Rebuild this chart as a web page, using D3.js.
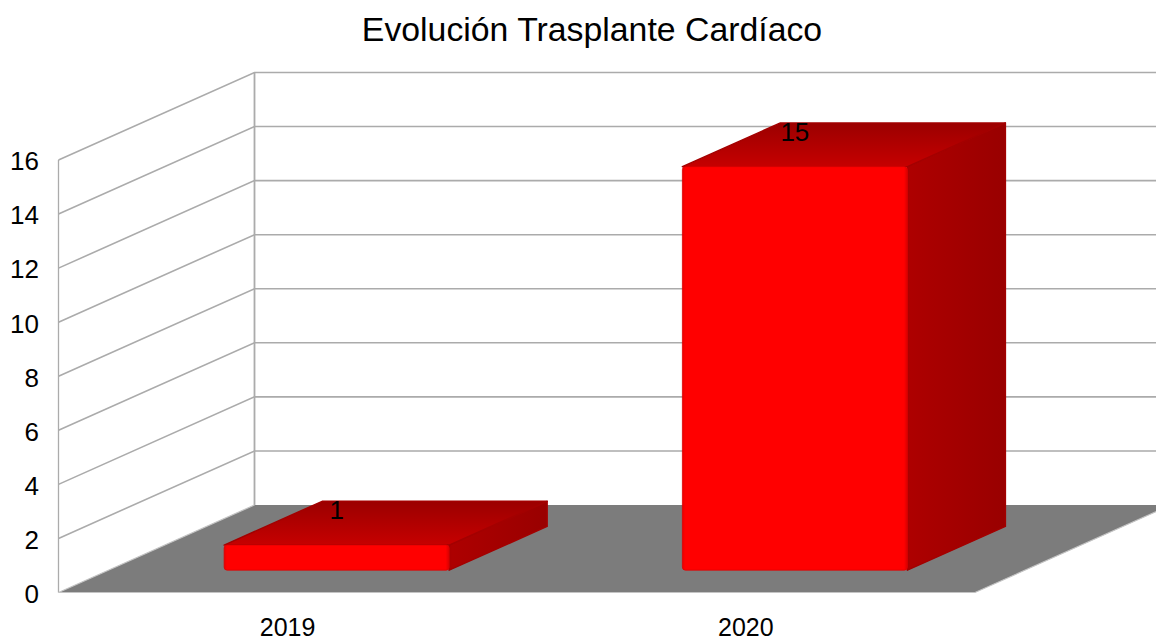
<!DOCTYPE html>
<html>
<head>
<meta charset="utf-8">
<script src="https://cdn.jsdelivr.net/npm/d3@7"></script>
<style>
  html, body { margin: 0; padding: 0; background: #fff; }
  svg { display: block; }
  text { font-family: "Liberation Sans", Arial, sans-serif; fill: #000; }
</style>
</head>
<body>
<svg id="chart" width="1156" height="640"></svg>
<script>
// values
const chartTitle = "Evolución Trasplante Cardíaco";
const years      = ["2019", "2020"];
const transplants = [1, 15];
const yTicks     = [0, 2, 4, 6, 8, 10, 12, 14, 16];

const svg = d3.select("#chart");

// front plane of the 3d box
const x = d3.scaleBand().domain(years).range([58.5, 975]);
const y = d3.scaleLinear().domain([0, 16]).range([592.5, 160]);

// depth runs 0 (front) to 1 (back wall) and shifts points up and right
const depthX = d3.scaleLinear().domain([0, 1]).range([0, 196]);
const depthY = d3.scaleLinear().domain([0, 1]).range([0, -87.5]);

const barWidth = 225;
const barFront = 0.25, barBack = 0.75;
const bevel = 1.5; // the bar top sits a bit under its true value in the render

const gridColor = "#ababab";

// project a point: px on front plane, value, depth
function pt(px, value, depth){
  return [px + depthX(depth), y(value) + depthY(depth)];
}

const line = d3.line();

/* gradients for the shaded bar faces */
const defs = svg.append("defs");

function addGradient(id, x2, y2, stops){
  let g = defs.append("linearGradient")
    .attr("id", id)
    .attr("x1", 0).attr("y1", 0)
    .attr("x2", x2).attr("y2", y2);
  stops.forEach(function(s){
    g.append("stop").attr("offset", s[0]).attr("stop-color", s[1]);
  });
}
addGradient("topFace", 0, 1, [[0, "#9b0000"], [1, "#c60000"]]);
addGradient("sideFace", 1, 0, [[0, "#a80000"], [0.03, "#ad0000"], [1, "#990000"]]);
addGradient("frontFace", 1, 0, [[0, "#e60000"], [0.012, "#ff0000"], [0.985, "#ff0000"], [1, "#d80000"]]);

/* floor */
svg.append("path")
  .attr("d", line([pt(x.range()[0], 0, 0), pt(x.range()[1], 0, 0), pt(x.range()[1], 0, 1), pt(x.range()[0], 0, 1)]) + "Z")
  .attr("fill", "#7c7c7c");

/* walls and gridlines */
const walls = svg.append("g").attr("fill", "none").attr("stroke", gridColor);

walls.selectAll("path.grid")
  .data(yTicks.filter(function(d){ return d > 0; }))
  .enter()
  .append("path")
  .attr("class", "grid")
  .attr("stroke-width", 1.6)
  .attr("d", function(d){
    return line([pt(x.range()[0], d, 0), pt(x.range()[0], d, 1), pt(x.range()[1], d, 1)]);
  });

walls.append("path")
  .attr("stroke-width", 1.3)
  .attr("d", line([pt(x.range()[0], 0, 0), pt(x.range()[0], 16, 0)]));
walls.append("path")
  .attr("stroke-width", 1.8)
  .attr("d", line([pt(x.range()[0], 0, 1), pt(x.range()[0], 16, 1)]));
walls.append("path")
  .attr("stroke", "#c4c4c4")
  .attr("stroke-width", 1.2)
  .attr("d", line([pt(x.range()[0], 0, 1), pt(x.range()[0], 0, 0), pt(x.range()[1], 0, 0), pt(x.range()[1], 0, 1)]));

/* bars */
const bars = svg.selectAll("g.bar")
  .data(years.map(function(d, i){ return {year: d, value: transplants[i]}; }))
  .enter()
  .append("g")
  .attr("class", "bar")
  .attr("stroke-linejoin", "round");

// left and right edge of the bar, on the plane of its front face
function barLeft(d){ return x(d.year) + (x.bandwidth() - barWidth) / 2; }
function barRight(d){ return barLeft(d) + barWidth; }

function topFront(d){ return pt(0, d.value, barFront)[1] + bevel; }
function topBack(d){ return pt(0, d.value, barBack)[1] + bevel; }
function baseFront(){ return pt(0, 0, barFront)[1] - 0.5; }
function baseBack(){ return pt(0, 0, barBack)[1] - 0.5; }

// side face
bars.append("path")
  .attr("fill", "url(#sideFace)")
  .attr("stroke", "#a30000")
  .attr("stroke-width", 1.5)
  .attr("d", function(d){
    let rf = barRight(d) + depthX(barFront), rb = barRight(d) + depthX(barBack);
    return line([[rf, baseFront()], [rb, baseBack()], [rb, topBack(d)], [rf, topFront(d)]]) + "Z";
  });

// top face
bars.append("path")
  .attr("fill", "url(#topFace)")
  .attr("stroke", "#a30000")
  .attr("stroke-width", 1.5)
  .attr("d", function(d){
    let dxF = depthX(barFront), dxB = depthX(barBack);
    return line([[barLeft(d) + dxF, topFront(d)], [barRight(d) + dxF, topFront(d)], [barRight(d) + dxB, topBack(d)], [barLeft(d) + dxB, topBack(d)]]) + "Z";
  });

// front face, rounded a little like the original render
bars.append("rect")
  .attr("x", function(d){ return barLeft(d) + depthX(barFront); })
  .attr("y", topFront)
  .attr("width", barWidth)
  .attr("height", function(d){ return baseFront() - topFront(d); })
  .attr("rx", 3)
  .attr("fill", "url(#frontFace)")
  .attr("stroke", "#e00000")
  .attr("stroke-width", 0.8);

// value labels sit on the top face
bars.append("text")
  .attr("x", function(d){ return barLeft(d) + barWidth / 2 + depthX(barFront); })
  .attr("y", function(d){ return topBack(d) + 18; })
  .attr("text-anchor", "middle")
  .attr("font-size", 26)
  .text(function(d){ return d.value; });

/* axes */
const yAxis = d3.axisLeft(y).tickValues(yTicks).tickSize(0).tickPadding(0);
svg.append("g")
  .attr("transform", "translate(39,1.5)")
  .call(yAxis)
  .call(function(g){ g.select(".domain").remove(); })
  .selectAll("text")
  .attr("font-size", 26)
  .style("font-family", "'Liberation Sans', Arial, sans-serif");

const xAxis = d3.axisBottom(x).tickSize(0).tickPadding(0);
svg.append("g")
  .attr("transform", "translate(0,618)")
  .call(xAxis)
  .call(function(g){ g.select(".domain").remove(); })
  .selectAll("text")
  .attr("font-size", 25)
  .style("font-family", "'Liberation Sans', Arial, sans-serif");

/* title */
svg.append("text")
  .attr("x", 592)
  .attr("y", 41)
  .attr("text-anchor", "middle")
  .attr("font-size", 33.8)
  .text(chartTitle);
</script>
</body>
</html>
